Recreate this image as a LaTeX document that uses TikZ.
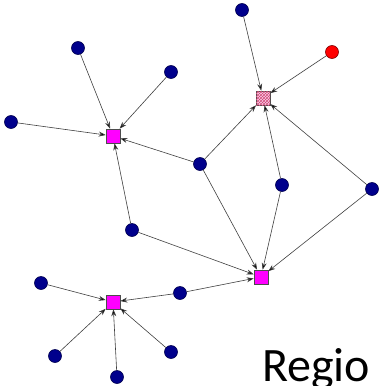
\documentclass[tikz,border=0pt]{standalone}
\usepackage{fontspec}
\setmainfont{Carlito}
\usetikzlibrary{arrows.meta,patterns}
\definecolor{navyb}{HTML}{00008C}
\definecolor{navyd}{HTML}{000050}
\definecolor{mag}{HTML}{FF00FF}
\definecolor{edgec}{HTML}{404040}
\begin{document}
\begin{tikzpicture}[x=1pt,y=-1pt,
  bnode/.style={circle,fill=navyb,draw=navyd,line width=0.6pt,minimum size=13pt,inner sep=0pt},
  rnode/.style={circle,fill=red,draw=red!50!black,line width=0.6pt,minimum size=13pt,inner sep=0pt},
  sqnode/.style={rectangle,fill=mag,draw=black!70,line width=0.6pt,minimum size=14pt,inner sep=0pt},
  hatchnode/.style={rectangle,fill=magenta!20,draw=black!70,line width=0.6pt,minimum size=14pt,inner sep=0pt,
     postaction={pattern=crosshatch,pattern color=purple!70}},
  link/.style={draw=edgec,line width=0.6pt,-{Stealth[length=7pt,width=5pt,fill=black]}}]
\useasboundingbox (0,0) rectangle (380,386);
\fill[white] (0,0) rectangle (380,386);
% squares
\node[sqnode] (s1) at (113,136) {};
\node[hatchnode] (s2) at (263,98) {};
\node[sqnode] (s3) at (261,277) {};
\node[sqnode] (s4) at (113,302) {};
% blue nodes
\node[bnode] (a) at (78,48) {};
\node[bnode] (b) at (171,72) {};
\node[bnode] (c) at (11,122) {};
\node[bnode] (d) at (242,10) {};
\node[rnode] (e) at (332,52) {};
\node[bnode] (f) at (200,164) {};
\node[bnode] (g) at (282,185) {};
\node[bnode] (h) at (372,189) {};
\node[bnode] (i) at (132,230) {};
\node[bnode] (j) at (180,293) {};
\node[bnode] (k) at (41,283) {};
\node[bnode] (l) at (55,356) {};
\node[bnode] (m) at (117,377) {};
\node[bnode] (n) at (171,352) {};
% edges
\foreach \u/\v in {a/s1,b/s1,c/s1,f/s1,i/s1,d/s2,e/s2,f/s2,g/s2,h/s2,f/s3,g/s3,h/s3,i/s3,j/s3,j/s4,k/s4,l/s4,m/s4,n/s4}
  \draw[link] (\u) -- (\v);
% text
\node[anchor=base west,inner sep=0pt,font=\fontsize{48}{48}\selectfont] (t) at (262,381) {Regio};
\end{tikzpicture}
\end{document}
